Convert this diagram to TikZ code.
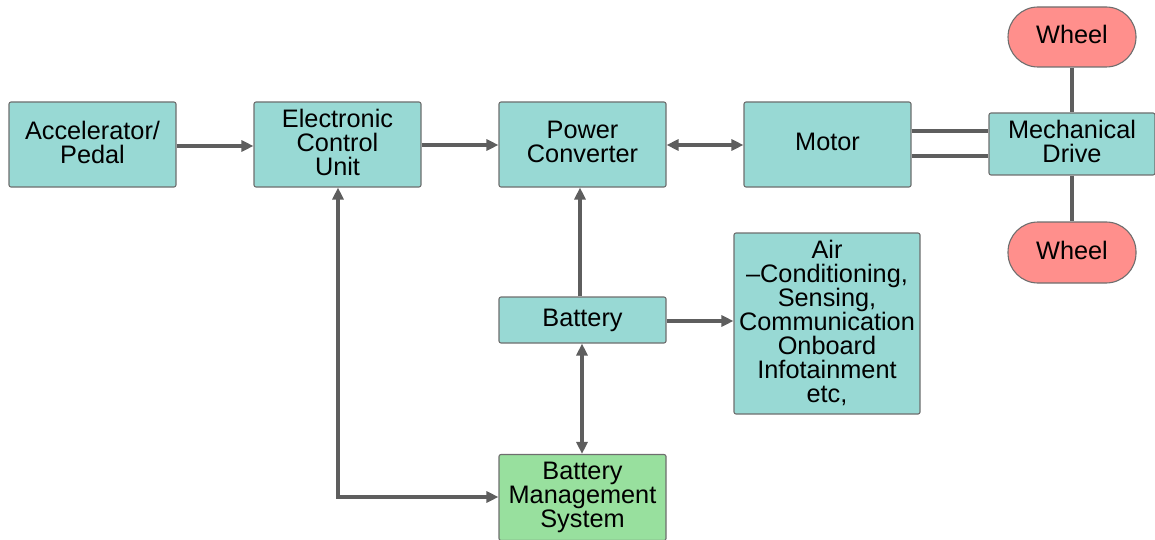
\documentclass[tikz,border=0pt]{standalone}
\usepackage{fontspec}
\setmainfont{Liberation Sans}
\usetikzlibrary{arrows.meta}
\definecolor{teal1}{HTML}{98D9D4}
\definecolor{wheelc}{HTML}{FF8F8C}
\definecolor{bmsc}{HTML}{98E09E}
\definecolor{edge}{HTML}{6E6E6E}
\definecolor{conn}{HTML}{5E5E5E}
\newcommand\lifttext[1]{\raisebox{4.5pt}{\vbox{\baselineskip=24pt\lineskiplimit=-50pt\halign{\hfil##\hfil\cr #1\crcr}}}}
\tikzset{
  blk/.style={draw=edge, line width=1.1pt, fill=teal1, rounded corners=2pt,
    inner sep=0pt, font=\fontsize{25.3}{24}\selectfont},
  wheelbox/.style={blk, fill=wheelc, rounded corners=30pt},
  conline/.style={draw=conn, line width=3.6pt},
  arr/.style={conline, -{Triangle[length=12pt,width=11pt]}},
  darr/.style={conline, {Triangle[length=12pt,width=11pt]}-{Triangle[length=12pt,width=11pt]}}
}
\begin{document}
\begin{tikzpicture}[x=1pt,y=1pt]
\useasboundingbox (0,0) rectangle (1155,-540);
\node[blk, minimum width=167pt, minimum height=85pt] (acc) at (92.5,-144.5) {\lifttext{Accelerator/\cr Pedal}};
\node[blk, minimum width=167pt, minimum height=85pt] (ecu) at (337.5,-144.5) {\lifttext{Electronic\cr Control\cr Unit}};
\node[blk, minimum width=167pt, minimum height=85pt] (pc) at (582.5,-144.5) {\lifttext{Power\cr Converter}};
\node[blk, minimum width=167pt, minimum height=85pt] (motor) at (827.5,-144.5) {\lifttext{Motor}};
\node[blk, minimum width=166pt, minimum height=62pt] (mech) at (1072,-144) {\lifttext{Mechanical\cr Drive}};
\node[wheelbox, minimum width=128pt, minimum height=60pt] (w1) at (1072,-37) {\lifttext{Wheel}};
\node[wheelbox, minimum width=128pt, minimum height=61pt] (w2) at (1072,-252.5) {\lifttext{Wheel}};
\node[blk, minimum width=167pt, minimum height=46pt] (bat) at (582.5,-320) {\lifttext{Battery}};
\node[blk, minimum width=186pt, minimum height=181pt] (air) at (827,-323.5) {\lifttext{Air\cr –Conditioning,\cr Sensing,\cr Communication\cr Onboard\cr Infotainment\cr etc,}};
\node[blk, fill=bmsc, minimum width=167pt, minimum height=86pt] (bms) at (582.5,-497.5) {\lifttext{Battery\cr Management\cr System}};

\draw[arr] (acc.east |- 0,-146) -- (ecu.west |- 0,-146);
\draw[arr] (ecu.east |- 0,-145) -- (pc.west |- 0,-145);
\draw[darr] (pc.east |- 0,-145) -- (motor.west |- 0,-145);
\draw[conline] (motor.east |- 0,-131) -- (mech.west |- 0,-131);
\draw[conline] (motor.east |- 0,-156) -- (mech.west |- 0,-156);
\draw[conline] (w1.south) -- (mech.north);
\draw[conline] (mech.south) -- (w2.north);
\draw[arr] (bat.north -| 580,0) -- (pc.south -| 580,0);
\draw[arr] (bat.east |- 0,-321) -- (air.west |- 0,-321);
\draw[darr] (bat.south -| 582,0) -- (bms.north -| 582,0);
\coordinate (corner) at (338,-497);
\draw[darr] (bms.west |- corner) -- (corner) -- (ecu.south -| corner);
\end{tikzpicture}
\end{document}
